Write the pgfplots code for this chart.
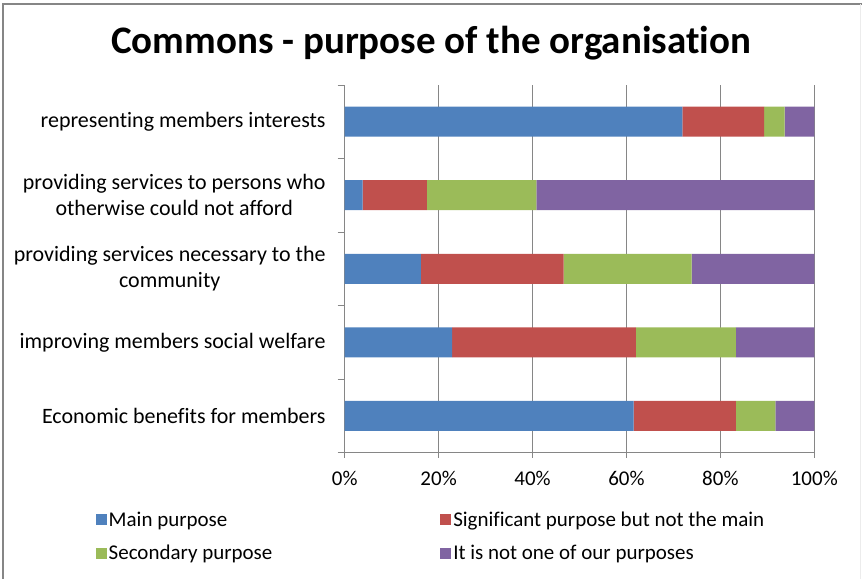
\documentclass[border=0pt]{standalone}
\usepackage{fontspec}
\setmainfont{Carlito}[Ligatures=NoCommon]
\usepackage{pgfplots}
\pgfplotsset{compat=1.18}
\definecolor{cblue}{HTML}{4F81BD}
\definecolor{cred}{HTML}{C0504D}
\definecolor{cgreen}{HTML}{9BBB59}
\definecolor{cpurple}{HTML}{8064A2}
\definecolor{cgrid}{HTML}{868686}
\begin{document}
\begin{tikzpicture}[x=1pt,y=1pt]
\path (0,0) rectangle (863,-579);
\draw[cgrid, line width=1.5pt] (3,-579) -- (3,-4) -- (863,-4);
\draw[gray!15, line width=1pt] (861.5,-4) -- (861.5,-579);
\node[font=\fontsize{39}{46}\selectfont\bfseries] at (431.5,-43) {Commons - purpose of the organisation};
\begin{axis}[
  at={(345pt,-453pt)}, anchor=south west,
  scale only axis, width=470pt, height=368pt,
  xbar stacked, bar width=30pt,
  xmin=0, xmax=100, ymin=-0.5, ymax=4.5,
  axis x line*=bottom, axis y line*=left,
  x axis line style={-}, y axis line style={-},
  axis line style={cgrid, line width=0.8pt},
  xmajorgrids, grid style={cgrid, line width=0.8pt},
  xtick={0,20,40,60,80,100},
  xticklabels={0\%,20\%,40\%,60\%,80\%,100\%},
  xtick style={draw=cgrid, line width=0.8pt},
  tick align=outside, major tick length=5pt,
  ytick={0,1,2,3,4},
  yticklabels={{Economic benefits for members},{improving members social welfare},{providing services necessary to the\\community},{providing services to persons who\\otherwise could not afford},{representing members interests}},
  ytick style={draw=none},
  extra y ticks={-0.5,0.5,1.5,2.5,3.5,4.5},
  extra y tick labels={},
  extra y tick style={ytick style={draw=cgrid, line width=0.8pt}, major tick length=7pt},
  tick label style={font=\fontsize{21}{25}\selectfont},
  yticklabel style={align=center, inner sep=0pt, xshift=-14pt, font=\fontsize{22}{26}\selectfont},
  xticklabel style={yshift=-10pt},
  legend style={at={(-0.537,-0.15)}, anchor=north west, draw=none, fill=none,
    font=\fontsize{21}{25}\selectfont, legend columns=2,
    /tikz/every even column/.append style={column sep=166pt},
    row sep=13pt, legend cell align=left},
  legend image code/.code={\fill[#1] (0pt,-5.5pt) rectangle (11pt,5.5pt);},
]
\addplot[fill=cblue, draw=none] coordinates {(61.5,0) (22.9,1) (16.2,2) (3.8,3) (71.9,4)};
\addlegendentry{Main purpose}
\addplot[fill=cred, draw=none] coordinates {(21.8,0) (39.1,1) (30.4,2) (13.7,3) (17.4,4)};
\addlegendentry{Significant purpose but not the main}
\addplot[fill=cgreen, draw=none] coordinates {(8.4,0) (21.3,1) (27.3,2) (23.3,3) (4.4,4)};
\addlegendentry{Secondary purpose}
\addplot[fill=cpurple, draw=none] coordinates {(8.3,0) (16.7,1) (26.1,2) (59.2,3) (6.3,4)};
\addlegendentry{It is not one of our purposes}
\end{axis}
\end{tikzpicture}
\end{document}
